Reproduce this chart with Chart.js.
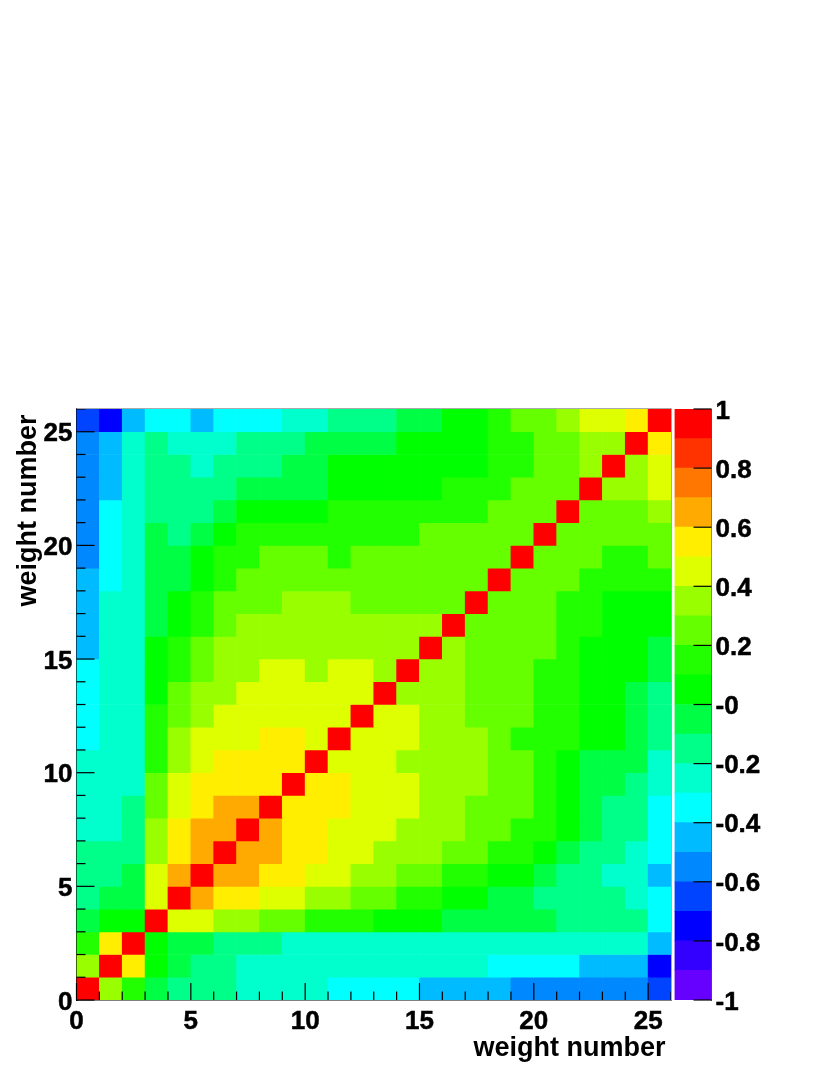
<!DOCTYPE html>
<html>
<head>
<meta charset="utf-8">
<title>weight correlation</title>
<script src="https://cdn.jsdelivr.net/npm/chart.js@4"></script>
<style>
    html, body { margin: 0; padding: 0; background: #fff; }
    canvas { position: absolute; left: 0; top: 0; }
</style>
</head>
<body>
<canvas id="matrixChart" width="830" height="1075"></canvas>
<canvas id="paletteChart" width="830" height="1075"></canvas>
<script>
// one list per matrix row, row00 is the bottom row of the picture
const row00 = [1, .35, .15, -.05, -.15, -.15, -.15, -.25, -.25, -.25, -.25, -.35, -.35, -.35, -.35, -.45, -.45, -.45, -.45, -.55, -.55, -.55, -.55, -.55, -.55, -.65];
const row01 = [.35, 1, .55, .05, -.05, -.15, -.15, -.25, -.25, -.25, -.25, -.25, -.25, -.25, -.25, -.25, -.25, -.25, -.35, -.35, -.35, -.35, -.45, -.45, -.45, -.75];
const row02 = [.15, .55, 1, .05, -.05, -.05, -.15, -.15, -.15, -.25, -.25, -.25, -.25, -.25, -.25, -.25, -.25, -.25, -.25, -.25, -.25, -.25, -.25, -.25, -.25, -.45];
const row03 = [-.05, .05, .05, 1, .45, .45, .35, .35, .25, .25, .15, .15, .15, .05, .05, .05, -.05, -.05, -.05, -.05, -.05, -.15, -.15, -.15, -.15, -.35];
const row04 = [-.15, -.05, -.05, .45, 1, .65, .55, .55, .45, .45, .35, .35, .25, .25, .15, .15, .05, .05, -.05, -.05, -.15, -.15, -.15, -.15, -.25, -.35];
const row05 = [-.15, -.15, -.05, .45, .65, 1, .65, .65, .55, .55, .45, .45, .35, .35, .25, .25, .15, .15, .05, .05, -.05, -.15, -.15, -.25, -.25, -.45];
const row06 = [-.15, -.15, -.15, .35, .55, .65, 1, .65, .65, .55, .55, .45, .45, .35, .35, .35, .25, .25, .15, .15, .05, -.05, -.15, -.15, -.25, -.35];
const row07 = [-.25, -.25, -.15, .35, .55, .65, .65, 1, .65, .55, .55, .45, .45, .45, .35, .35, .35, .25, .25, .15, .15, .05, -.05, -.15, -.15, -.35];
const row08 = [-.25, -.25, -.15, .25, .45, .55, .65, .65, 1, .55, .55, .55, .45, .45, .45, .35, .35, .25, .25, .25, .15, .05, -.05, -.15, -.15, -.35];
const row09 = [-.25, -.25, -.25, .25, .45, .55, .55, .55, .55, 1, .55, .55, .45, .45, .45, .35, .35, .35, .25, .25, .15, .05, -.05, -.05, -.15, -.25];
const row10 = [-.25, -.25, -.25, .15, .35, .45, .55, .55, .55, .55, 1, .45, .45, .45, .35, .35, .35, .35, .25, .25, .15, .05, -.05, -.05, -.05, -.25];
const row11 = [-.35, -.25, -.25, .15, .35, .45, .45, .45, .55, .55, .45, 1, .45, .45, .45, .35, .35, .35, .25, .15, .15, .15, .05, .05, -.05, -.15];
const row12 = [-.35, -.25, -.25, .15, .25, .35, .45, .45, .45, .45, .45, .45, 1, .45, .45, .35, .35, .25, .25, .25, .15, .15, .05, .05, -.05, -.15];
const row13 = [-.35, -.25, -.25, .05, .25, .35, .35, .45, .45, .45, .45, .45, .45, 1, .35, .35, .35, .25, .25, .25, .15, .15, .05, .05, -.05, -.15];
const row14 = [-.35, -.25, -.25, .05, .15, .25, .35, .35, .45, .45, .35, .45, .45, .35, 1, .35, .35, .25, .25, .25, .15, .15, .05, .05, .05, -.05];
const row15 = [-.45, -.25, -.25, .05, .15, .25, .35, .35, .35, .35, .35, .35, .35, .35, .35, 1, .35, .25, .25, .25, .25, .15, .05, .05, .05, -.05];
const row16 = [-.45, -.25, -.25, -.05, .05, .15, .25, .35, .35, .35, .35, .35, .35, .35, .35, .35, 1, .25, .25, .25, .25, .15, .15, .05, .05, .05];
const row17 = [-.45, -.25, -.25, -.05, .05, .15, .25, .25, .25, .35, .35, .35, .25, .25, .25, .25, .25, 1, .25, .25, .25, .15, .15, .05, .05, .05];
const row18 = [-.45, -.35, -.25, -.05, -.05, .05, .15, .25, .25, .25, .25, .25, .25, .25, .25, .25, .25, .25, 1, .25, .25, .25, .15, .15, .15, .15];
const row19 = [-.55, -.35, -.25, -.05, -.05, .05, .15, .15, .25, .25, .25, .15, .25, .25, .25, .25, .25, .25, .25, 1, .25, .25, .25, .15, .15, .25];
const row20 = [-.55, -.35, -.25, -.05, -.15, -.05, .05, .15, .15, .15, .15, .15, .15, .15, .15, .25, .25, .25, .25, .25, 1, .25, .25, .25, .25, .25];
const row21 = [-.55, -.35, -.25, -.15, -.15, -.15, -.05, .05, .05, .05, .05, .15, .15, .15, .15, .15, .15, .15, .25, .25, .25, 1, .25, .25, .25, .35];
const row22 = [-.55, -.45, -.25, -.15, -.15, -.15, -.15, -.05, -.05, -.05, -.05, .05, .05, .05, .05, .05, .15, .15, .15, .25, .25, .25, 1, .35, .35, .45];
const row23 = [-.55, -.45, -.25, -.15, -.15, -.25, -.15, -.15, -.15, -.05, -.05, .05, .05, .05, .05, .05, .05, .05, .15, .15, .25, .25, .35, 1, .35, .45];
const row24 = [-.55, -.45, -.25, -.15, -.25, -.25, -.25, -.15, -.15, -.15, -.05, -.05, -.05, -.05, .05, .05, .05, .05, .15, .15, .25, .25, .35, .35, 1, .55];
const row25 = [-.65, -.75, -.45, -.35, -.35, -.45, -.35, -.35, -.35, -.25, -.25, -.15, -.15, -.15, -.05, -.05, .05, .05, .15, .25, .25, .35, .45, .45, .55, 1];

const matrixRows = [row00, row01, row02, row03, row04, row05, row06, row07, row08, row09, row10, row11, row12,
    row13, row14, row15, row16, row17, row18, row19, row20, row21, row22, row23, row24, row25];

// palette goes from -1 to 1 in 20 steps
const paletteEdges = [-1, -.9, -.8, -.7, -.6, -.5, -.4, -.3, -.2, -.1, 0, .1, .2, .3, .4, .5, .6, .7, .8, .9, 1];
const paletteColors = ['#6600ff', '#3300ff', '#0000ff', '#0044ff', '#0088ff', '#00bbff', '#00ffff', '#00ffcc', '#00ff88', '#00ff44',
    '#00ff00', '#22ff00', '#66ff00', '#99ff00', '#ddff00', '#ffee00', '#ffaa00', '#ff7700', '#ff3300', '#ff0000'];

const axisTitle = 'weight number\u2009';
const labelFont = { family: '"Liberation Sans", Arial, sans-serif', size: 26, weight: 'bold' };
const titleFont = { family: '"Liberation Sans", Arial, sans-serif', size: 27, weight: 'bold' };

function colorFor(value) {
    const index = Math.floor((value + 1) * 10);
    return paletteColors[Math.min(index, paletteColors.length - 1)];
}

// build the cells, each one is a floating bar
const cells = [];
matrixRows.forEach((row, r) => {
    row.forEach((value, c) => {
        cells.push({ x: c + 0.5, y: [r, r + 1], z: value });
    });
});

// ROOT style ticks: drawn inward, longer every 5
const inwardTicks = {
    id: 'inwardTicks',
    afterDraw(chart) {
        const ctx = chart.ctx;
        const { left, top, right, bottom } = chart.chartArea;
        ctx.save();
        ctx.strokeStyle = '#000';
        ctx.lineWidth = 1.2;
        chart.scales.x.ticks.forEach(t => {
            const px = chart.scales.x.getPixelForValue(t.value);
            const len = t.value % 5 === 0 ? 17 : 8.5;
            ctx.beginPath();
            ctx.moveTo(px, bottom);
            ctx.lineTo(px, bottom - len);
            ctx.stroke();
        });
        chart.scales.y.ticks.forEach(t => {
            const py = chart.scales.y.getPixelForValue(t.value);
            const len = t.value % 5 === 0 ? 18 : 9;
            ctx.beginPath();
            ctx.moveTo(left, py);
            ctx.lineTo(left + len, py);
            ctx.stroke();
        });
        // thin frame on the top and right
        ctx.strokeStyle = '#aaa';
        ctx.lineWidth = 1;
        ctx.beginPath();
        ctx.moveTo(left, top - 0.5);
        ctx.lineTo(right + 0.5, top - 0.5);
        ctx.lineTo(right + 0.5, bottom);
        ctx.stroke();
        ctx.restore();
    }
};

const paletteTicks = {
    id: 'paletteTicks',
    afterDraw(chart) {
        const ctx = chart.ctx;
        const { right } = chart.chartArea;
        ctx.save();
        ctx.strokeStyle = '#000';
        ctx.lineWidth = 1.2;
        chart.scales.y.ticks.forEach(t => {
            const py = chart.scales.y.getPixelForValue(t.value);
            ctx.beginPath();
            ctx.moveTo(right, py);
            ctx.lineTo(right - 18, py);
            ctx.stroke();
        });
        ctx.restore();
    }
};

new Chart(document.getElementById('matrixChart').getContext('2d'), {
    type: 'bar',
    data: {
        datasets: [{
            data: cells,
            backgroundColor: ctx => colorFor(ctx.raw.z),
            borderWidth: 0,
            barPercentage: 1,
            categoryPercentage: 1
        }]
    },
    plugins: [inwardTicks],
    options: {
        responsive: false,
        animation: false,
        devicePixelRatio: 1,
        layout: { padding: { left: 0, top: 409, right: 159, bottom: 0 } },
        plugins: { legend: { display: false }, tooltip: { enabled: false } },
        scales: {
            x: {
                type: 'linear',
                offset: false,
                min: 0,
                max: 26,
                afterFit: s => { s.height = 75; },
                grid: { display: false, drawTicks: false },
                border: { color: '#000', width: 1.5 },
                ticks: {
                    stepSize: 1,
                    autoSkip: false,
                    maxRotation: 0,
                    padding: 6,
                    color: '#000',
                    font: labelFont,
                    textStrokeColor: '#000',
                    textStrokeWidth: 0.5,
                    callback: v => (v % 5 === 0 && v < 26 ? String(v) : '')
                },
                title: { display: true, text: axisTitle, align: 'end', color: '#000', font: titleFont, padding: { top: 0, bottom: 10 } }
            },
            y: {
                min: 0,
                max: 26,
                afterFit: s => { s.width = 76.5; },
                grid: { display: false, drawTicks: false },
                border: { color: '#000', width: 1.5 },
                ticks: {
                    stepSize: 1,
                    autoSkip: false,
                    padding: 4,
                    labelOffset: 2.5,
                    color: '#000',
                    font: labelFont,
                    textStrokeColor: '#000',
                    textStrokeWidth: 0.5,
                    callback: v => (v % 5 === 0 && v < 26 ? String(v) : '')
                },
                title: { display: true, text: axisTitle, align: 'end', color: '#000', font: titleFont, padding: { top: 12, bottom: 0 } }
            }
        }
    }
});

new Chart(document.getElementById('paletteChart').getContext('2d'), {
    type: 'bar',
    data: {
        labels: ['z'],
        datasets: paletteColors.map((color, i) => ({
            data: [[paletteEdges[i], paletteEdges[i + 1]]],
            backgroundColor: color,
            borderWidth: 0,
            grouped: false,
            barPercentage: 1,
            categoryPercentage: 1
        }))
    },
    plugins: [paletteTicks],
    options: {
        responsive: false,
        animation: false,
        devicePixelRatio: 1,
        layout: { padding: { left: 674.5, top: 409, right: 0, bottom: 75 } },
        plugins: { legend: { display: false }, tooltip: { enabled: false } },
        scales: {
            x: { display: false, offset: true },
            y: {
                position: 'right',
                min: -1,
                max: 1,
                afterFit: s => { s.width = 118.5; },
                grid: { display: false, drawTicks: false },
                border: { color: '#555', width: 1 },
                ticks: {
                    stepSize: 0.2,
                    padding: 4,
                    labelOffset: 2.5,
                    color: '#000',
                    font: labelFont,
                    textStrokeColor: '#000',
                    textStrokeWidth: 0.5,
                    callback: v => {
                        const rounded = Math.round(v * 10) / 10;
                        return rounded === 0 ? '-0' : String(rounded);
                    }
                }
            }
        }
    }
});
</script>
</body>
</html>
